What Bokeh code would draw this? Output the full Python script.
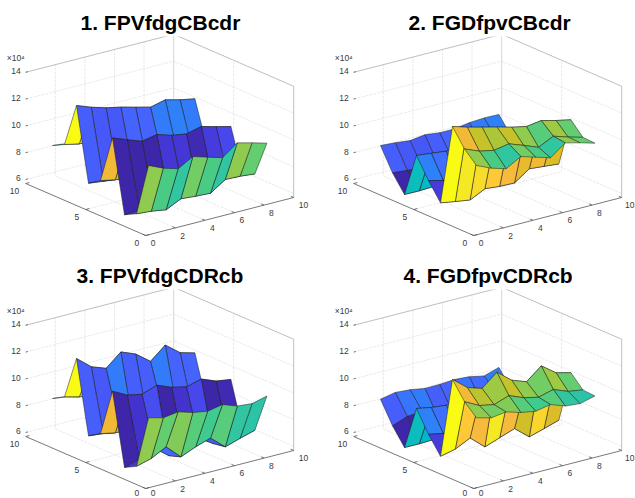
from bokeh.plotting import figure
from bokeh.layouts import gridplot
from bokeh.models import Range1d, LinearColorMapper, ColumnDataSource, Title
from bokeh.embed import file_html
from bokeh.resources import INLINE

titles = ["1. FPVfdgCBcdr", "2. FGDfpvCBcdr", "3. FPVfdgCDRcb", "4. FGDfpvCDRcb"]
title_left = [80, 80, 76, 75]
x_ticks = [0, 2, 4, 6, 8, 10]
y_ticks = [0, 5, 10]
z_ticks = [6, 8, 10, 12, 14]
z_low = 5.7
exponent_label = "×10⁴"

# surface heights in units of 10^4; rows are y = 1..9, columns are x = 1..9
z1 = [
    [10.25, 9.77, 9.44, 10.07, 9.74, 9.41, 10.24, 9.96, 9.65],
    [6.26, 6.17, 5.99, 6.53, 6.44, 6.38, 7.12, 7.08, 6.97],
    [5.80, 5.85, 5.90, 6.25, 6.25, 6.00, 6.40, 6.55, 6.50],
    [11.15, 10.72, 10.33, 10.55, 10.20, 10.03, 10.30, 10.00, 9.73],
    [7.58, 7.35, 7.20, 7.40, 7.25, 7.10, 7.40, 7.25, 7.10],
    [6.99, 6.85, 6.90, 7.10, 7.05, 7.45, 7.60, 7.55, 7.50],
    [12.40, 11.99, 11.66, 11.43, 11.14, 10.86, 11.12, 10.84, 10.63],
    [9.10, 8.87, 8.80, 9.00, 8.90, 8.70, 8.90, 8.80, 8.60],
    [8.64, 8.50, 8.40, 8.60, 8.50, 8.30, 8.50, 8.40, 8.20],
]
z2 = [
    [10.25, 9.77, 9.44, 10.07, 9.74, 9.41, 10.24, 9.96, 9.65],
    [11.10, 10.65, 10.43, 10.63, 10.23, 9.80, 10.35, 10.00, 9.70],
    [12.39, 12.05, 11.77, 11.49, 11.20, 10.97, 11.13, 10.85, 10.62],
    [6.30, 6.12, 5.95, 6.50, 6.40, 6.37, 7.14, 7.04, 6.94],
    [7.57, 7.30, 7.15, 7.30, 7.20, 7.05, 7.30, 7.15, 7.00],
    [9.06, 8.94, 8.81, 8.90, 8.80, 8.70, 8.80, 8.70, 8.60],
    [5.76, 5.75, 5.80, 5.90, 5.95, 6.00, 6.10, 6.10, 6.10],
    [6.99, 6.88, 6.85, 6.95, 7.00, 7.20, 7.50, 7.55, 7.50],
    [8.64, 8.56, 8.44, 8.59, 8.46, 8.46, 8.64, 8.71, 8.69],
]
z3 = [
    [10.30, 10.02, 10.18, 9.85, 9.66, 9.88, 9.48, 9.38, 9.66],
    [6.30, 6.60, 7.19, 6.15, 6.62, 6.99, 6.05, 6.40, 6.72],
    [5.82, 6.15, 6.70, 5.85, 6.20, 6.60, 5.90, 6.00, 6.30],
    [11.12, 10.55, 10.33, 10.72, 10.28, 10.03, 10.33, 9.90, 9.73],
    [7.57, 7.35, 7.30, 7.60, 7.40, 7.30, 7.60, 7.40, 7.30],
    [7.02, 6.90, 7.55, 7.05, 7.00, 7.55, 7.10, 7.15, 7.10],
    [12.40, 11.50, 11.10, 12.04, 11.60, 10.77, 11.70, 10.85, 10.55],
    [9.15, 8.87, 8.70, 9.00, 8.85, 8.65, 8.90, 8.75, 8.55],
    [8.64, 8.50, 8.40, 8.60, 8.50, 8.35, 8.55, 8.40, 8.30],
]
z4 = [
    [10.30, 10.02, 10.18, 9.85, 9.66, 9.88, 9.48, 9.38, 9.66],
    [11.12, 10.55, 10.33, 10.72, 10.28, 10.03, 10.33, 9.90, 9.73],
    [12.39, 11.50, 11.15, 12.07, 11.20, 10.80, 11.70, 10.90, 10.63],
    [6.27, 6.52, 7.07, 6.12, 6.52, 6.92, 6.02, 6.35, 6.70],
    [7.52, 7.30, 7.55, 7.20, 7.10, 7.50, 7.30, 7.25, 7.20],
    [9.06, 8.85, 8.73, 8.90, 8.80, 8.70, 8.80, 8.70, 8.60],
    [5.76, 5.75, 5.80, 5.90, 6.00, 6.00, 6.10, 6.10, 6.10],
    [6.99, 7.40, 7.50, 6.95, 7.00, 7.40, 7.10, 7.50, 7.50],
    [8.59, 8.81, 8.73, 8.54, 8.56, 8.64, 8.56, 8.34, 8.69],
]
surfaces = [z1, z2, z3, z4]

PARULA_RGB = [
    (.2422,.1504,.6603),(.2504,.1650,.7076),(.2578,.1818,.7511),(.2647,.1978,.7952),
    (.2706,.2147,.8364),(.2751,.2342,.8710),(.2783,.2559,.8991),(.2803,.2782,.9221),
    (.2813,.3006,.9414),(.2810,.3228,.9579),(.2795,.3447,.9717),(.2760,.3667,.9829),
    (.2699,.3892,.9906),(.2602,.4123,.9952),(.2440,.4358,.9988),(.2206,.4603,.9973),
    (.1963,.4847,.9892),(.1834,.5074,.9798),(.1786,.5289,.9682),(.1764,.5499,.9520),
    (.1687,.5703,.9359),(.1540,.5902,.9218),(.1460,.6091,.9079),(.1380,.6276,.8973),
    (.1248,.6459,.8883),(.1113,.6635,.8763),(.0952,.6798,.8598),(.0689,.6948,.8394),
    (.0297,.7082,.8163),(.0036,.7203,.7917),(.0067,.7312,.7660),(.0433,.7411,.7394),
    (.0964,.7500,.7120),(.1408,.7584,.6842),(.1717,.7670,.6554),(.1938,.7758,.6251),
    (.2161,.7843,.5923),(.2470,.7918,.5567),(.2906,.7973,.5188),(.3406,.8008,.4789),
    (.3909,.8029,.4354),(.4456,.8024,.3909),(.5044,.7993,.3480),(.5616,.7942,.3045),
    (.6174,.7876,.2612),(.6720,.7793,.2227),(.7242,.7698,.1910),(.7738,.7598,.1646),
    (.8203,.7498,.1535),(.8634,.7406,.1596),(.9035,.7330,.1774),(.9393,.7288,.2100),
    (.9728,.7298,.2394),(.9956,.7434,.2371),(.9970,.7659,.2199),(.9952,.7893,.2028),
    (.9892,.8136,.1885),(.9786,.8386,.1766),(.9676,.8639,.1643),(.9610,.8890,.1537),
    (.9597,.9135,.1423),(.9628,.9373,.1265),(.9691,.9606,.1064),(.9769,.9839,.0805),
]
PARULA = ["#%02x%02x%02x" % tuple(round(c * 255) for c in rgb) for rgb in PARULA_RGB]

COL_W = [328, 307]
ROW_H = [253, 245]
TOP = 36
FONT = "Liberation Sans"
TXT = "#3a3a3a"


def proj(x, y, z):
    return 145.2 + 14.8 * x - 12.0 * y, 235.0 - 3.8 * x - 5.2 * y - (z - z_low) * 13.4


def seg(a, b):
    pa, pb = proj(*a), proj(*b)
    return [pa[0], pb[0]], [pa[1], pb[1]]


def panel(k):
    w, h = COL_W[k % 2], ROW_H[k // 2]
    p = figure(width=w, height=h, output_backend="svg", toolbar_location=None,
               x_range=Range1d(0, w), y_range=Range1d(h, TOP),
               min_border_left=0, min_border_right=0, min_border_bottom=0, min_border_top=TOP,
               outline_line_color=None, background_fill_color="white", border_fill_color="white")
    p.axis.visible = False
    p.grid.visible = False
    p.title = Title(text=titles[k], align="left", offset=title_left[k],
                    text_font=FONT, text_font_size="21px", text_font_style="bold",
                    text_color="#000000", standoff=6)

    # walls and floor
    grid = []
    for z in z_ticks:
        if z != 14:
            grid.append(([0, 10, 10], [10, 10, 0], [z] * 3))
    for x in x_ticks[1:-1]:
        grid.append(([x, x, x], [0, 10, 10], [z_low, z_low, 14]))
    for y in [5]:
        grid.append(([0, 10, 10], [y, y, y], [z_low, z_low, 14]))
    gx, gy = [], []
    for xs, ys, zs in grid:
        pts = [proj(a, b, c) for a, b, c in zip(xs, ys, zs)]
        gx.append([q[0] for q in pts])
        gy.append([q[1] for q in pts])
    p.multi_line(gx, gy, line_color="#e4e4e4", line_width=0.8, line_dash="3 1")

    box = [proj(0, 10, 14), proj(10, 10, 14), proj(10, 0, 14), proj(10, 0, z_low)]
    p.line([q[0] for q in box], [q[1] for q in box], line_color="#adadad", line_width=0.8)
    back = seg((10, 10, z_low), (10, 10, 14))
    p.line(back[0], back[1], line_color="#cccccc", line_width=0.8)

    # surface, painted from the far corner forwards
    Z = surfaces[k]
    flat = [v for row in Z for v in row]
    xs, ys, cs = [], [], []
    for j in range(7, -1, -1):
        for i in range(7, -1, -1):
            corners = [(i, j), (i + 1, j), (i + 1, j + 1), (i, j + 1)]
            pts = [proj(a + 1, b + 1, Z[b][a]) for a, b in corners]
            xs.append([q[0] for q in pts])
            ys.append([q[1] for q in pts])
            cs.append(Z[j][i])
    mapper = LinearColorMapper(palette=PARULA, low=min(flat), high=max(flat))
    p.patches("xs", "ys", source=ColumnDataSource(dict(xs=xs, ys=ys, c=cs)),
              fill_color={"field": "c", "transform": mapper},
              line_color="#1a1a1a", line_width=0.5, line_join="miter")

    # front axes
    ax = [proj(0, 10, z_low), proj(0, 0, z_low), proj(10, 0, z_low)]
    p.line([q[0] for q in ax], [q[1] for q in ax], line_color="#555555", line_width=0.8)

    tx, ty = [], []
    for x in x_ticks:
        a, b = seg((x, 0, z_low), (x, 0.25, z_low))
        tx.append(a); ty.append(b)
    for y in y_ticks:
        a, b = seg((0, y, z_low), (0.25, y, z_low))
        tx.append(a); ty.append(b)
    for z in z_ticks:
        a, b = seg((0, 10, z), (0.15, 10, z))
        tx.append(a); ty.append(b)
    p.multi_line(tx, ty, line_color="#555555", line_width=0.8)

    # tick labels, kept clear of the page edges
    style = dict(text_font={"value": FONT}, text_font_size={"value": "8.5px"}, text_color=TXT)
    lab_y = lambda v: min(v + 7.7, h - 5.5)
    p.text([min(proj(x, 0, z_low)[0] + 5, w - 10.5) for x in x_ticks],
           [lab_y(proj(x, 0, z_low)[1]) for x in x_ticks],
           text=[str(x) for x in x_ticks], text_align="left", text_baseline="middle", **style)
    p.text([proj(0, y, z_low)[0] - 6.5 for y in y_ticks], [lab_y(proj(0, y, z_low)[1]) for y in y_ticks],
           text=[str(y) for y in y_ticks], text_align="right", text_baseline="middle", **style)
    p.text([proj(0, 10, z)[0] - 5 for z in z_ticks], [proj(0, 10, z)[1] - 1 for z in z_ticks],
           text=[str(z) for z in z_ticks], text_align="right", text_baseline="middle", **style)
    top = proj(0, 10, 14)
    p.text([top[0] - 19], [top[1] - 14.5], text=[exponent_label], text_align="left",
           text_baseline="middle", **style)
    return p


figs = [panel(k) for k in range(4)]
grid = gridplot([figs[:2], figs[2:]], toolbar_location=None, merge_tools=False)
grid.styles = {"position": "absolute", "left": "0", "top": "0"}
open("out.html", "w").write(file_html(grid, INLINE))
